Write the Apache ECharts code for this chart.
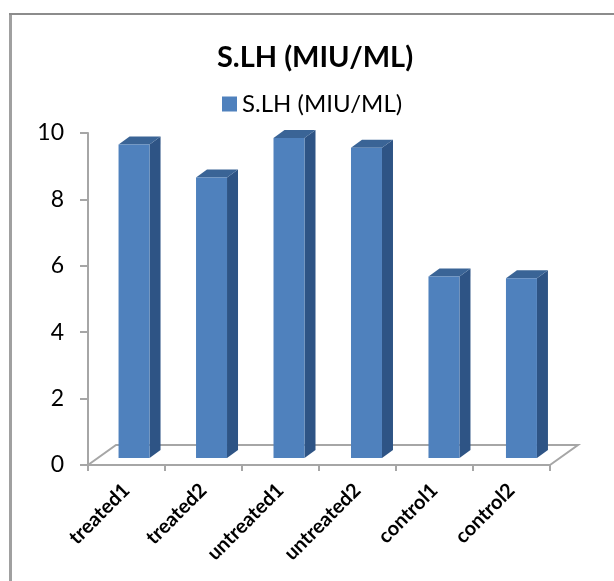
<!DOCTYPE html>
<html>
<head>
<meta charset="utf-8">
<style>
  html, body { margin: 0; padding: 0; background: #fff; }
  #chart { width: 614px; height: 581px; }
</style>
<script src="https://cdn.jsdelivr.net/npm/echarts@6/dist/echarts.min.js"></script>
</head>
<body>
<div id="chart"></div>
<script>
var categories = ['treated1', 'treated2', 'untreated1', 'untreated2', 'control1', 'control2'];
var values = [9.5, 8.5, 9.7, 9.4, 5.5, 5.45];
var seriesName = 'S.LH (MIU/ML)';
var yTicks = [0, 2, 4, 6, 8, 10];

var font = 'Lato, "Open Sans", sans-serif';
var front = '#4f81bd';
var top3d = '#3a6496';
var side = '#2e5485';
var axisGrey = '#a6a6a6';
var depthX = 11;
var depthY = 8;

function renderBar(params, api) {
  var i = api.value(0);
  var base = api.coord([i, 0]);
  var head = api.coord([i, api.value(1)]);
  var w = api.size([1, 0])[0] * 0.4;
  var l = base[0] - w / 2;
  var r = base[0] + w / 2;
  var t = head[1];
  var b = base[1];
  return {
    type: 'group',
    children: [
      {
        type: 'polygon',
        shape: { points: [[r, t], [r + depthX, t - depthY], [r + depthX, b - depthY], [r, b]] },
        style: { fill: side }
      },
      {
        type: 'polygon',
        shape: { points: [[l, t], [l + depthX, t - depthY], [r + depthX, t - depthY], [r, t]] },
        style: { fill: top3d }
      },
      {
        type: 'rect',
        shape: { x: l, y: t, width: w, height: b - t },
        style: { fill: front }
      }
    ]
  };
}

echarts.init(document.getElementById('chart'), null, { renderer: 'canvas' }).setOption({
  animation: false,
  backgroundColor: '#fff',
  title: {
    text: seriesName,
    left: 310,
    top: 38,
    textAlign: 'center',
    textStyle: { fontFamily: font, fontSize: 29, fontWeight: 'bold', color: '#000' }
  },
  legend: {
    data: [{ name: seriesName, icon: 'rect' }],
    left: 217,
    top: 87,
    itemWidth: 15,
    itemHeight: 15,
    itemGap: 7,
    textStyle: { fontFamily: font, fontSize: 24, color: '#000' }
  },
  grid: [
    // visible axes
    { left: 88, top: 133, width: 462, height: 332 },
    // plane the bars stand on, set back from the axes
    { left: 95.3, top: 128, width: 464.9, height: 330 }
  ],
  xAxis: [
    {
      type: 'category',
      gridIndex: 0,
      data: categories,
      axisLine: { lineStyle: { color: axisGrey, width: 2 } },
      axisTick: { show: true, length: 6, alignWithLabel: false, lineStyle: { color: axisGrey, width: 2 } },
      axisLabel: {
        interval: 0,
        rotate: 45,
        margin: 22,
        fontFamily: font,
        fontSize: 20,
        fontWeight: 'bold',
        color: '#000'
      }
    },
    { type: 'category', gridIndex: 1, data: categories, show: false }
  ],
  yAxis: [
    {
      type: 'value',
      gridIndex: 0,
      min: yTicks[0],
      max: yTicks[yTicks.length - 1],
      interval: 2,
      splitLine: { show: false },
      axisLine: { show: true, lineStyle: { color: axisGrey, width: 2 } },
      axisTick: { show: true, length: 8, lineStyle: { color: axisGrey, width: 2 } },
      axisLabel: { margin: 24, fontFamily: font, fontSize: 23, color: '#000' }
    },
    { type: 'value', gridIndex: 1, min: 0, max: 10, show: false }
  ],
  graphic: [
    {
      type: 'polyline',
      silent: true,
      shape: { points: [[88, 465], [116, 445], [578, 445], [550, 465]] },
      style: { stroke: axisGrey, lineWidth: 2, fill: null }
    },
    {
      type: 'polyline',
      silent: true,
      shape: { points: [[10.5, 581], [10.5, 14]] },
      style: { stroke: '#a0a0a0', lineWidth: 3, fill: null }
    },
    {
      type: 'polyline',
      silent: true,
      shape: { points: [[9, 14], [614, 14]] },
      style: { stroke: '#8c8c8c', lineWidth: 2, fill: null }
    }
  ],
  series: [
    {
      name: seriesName,
      type: 'custom',
      xAxisIndex: 1,
      yAxisIndex: 1,
      itemStyle: { color: front },
      renderItem: renderBar,
      encode: { x: 0, y: 1 },
      data: values.map(function (v, i) {
        return [i, v];
      })
    }
  ]
});
</script>
</body>
</html>
